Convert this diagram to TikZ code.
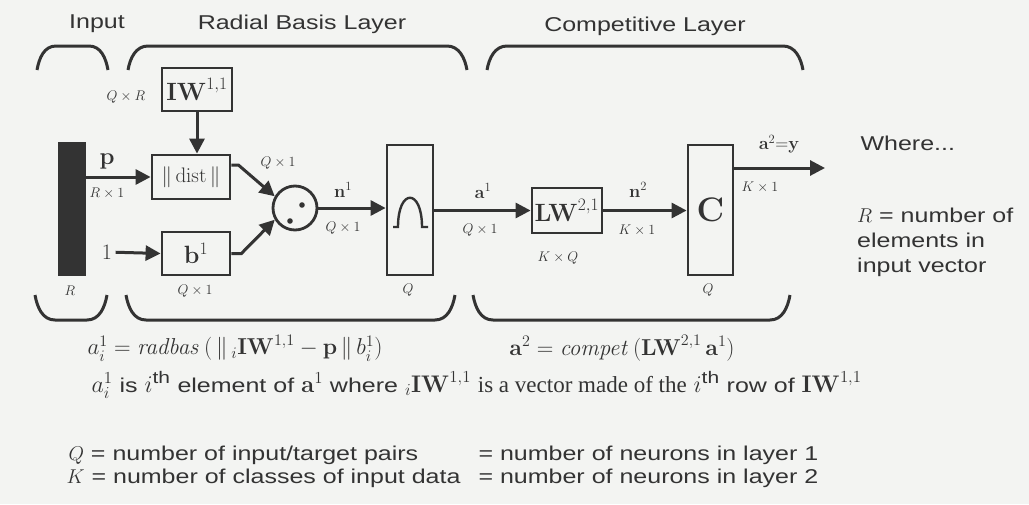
\RequirePackage{fix-cm}
\documentclass[tikz,border=0pt]{standalone}
\usepackage{amsmath}
\usepackage[no-math]{fontspec}
\setmainfont{Liberation Sans}[FakeStretch=1.25]
\newfontfamily\timesface{Liberation Serif}
\usetikzlibrary{arrows.meta,calc}
\definecolor{ink}{HTML}{333333}
\definecolor{paper}{HTML}{F3F4F2}
\newcommand{\mth}[1]{{\fontsize{24}{25}\selectfont$#1$}}
\tikzset{block/.style={draw=ink,line width=2.8pt,inner sep=0pt}}
\tikzset{wire/.style={draw=ink,line width=3pt,-{Triangle[length=15pt,width=15pt]}}}
\tikzset{layer/.style={draw=ink,line width=3pt}}
\tikzset{dims/.style={font=\fontsize{14}{16}\selectfont}}
\tikzset{sans/.style={font=\fontsize{20}{25}\selectfont}}
\tikzset{sym/.style={font=\fontsize{18}{20}\selectfont}}
\tikzset{big/.style={font=\fontsize{25}{28}\selectfont}}
\tikzset{formula/.style={font=\fontsize{23}{26}\selectfont}}

\begin{document}
\begin{tikzpicture}[x=10pt,y=-10pt,every node/.style={text=ink}]
    \fill [paper] (0,0) rectangle (102.9,50.4);
    \useasboundingbox (0,0) rectangle (102.9,50.4);

    \node [sans] (inputtitle) at (9.7,2.4) {Input};
    \node [sans] (rbtitle) at (30.2,2.4) {Radial Basis Layer};
    \node [sans] (comptitle) at (64.5,2.6) {Competitive Layer};

    \draw [layer] (3.7,7) to[out=80,in=180] (5.6,4.6) -- (8.9,4.6) to[out=0,in=100] (10.8,7);
    \draw [layer] (12.8,7) to[out=80,in=180] (14.8,4.6) -- (44.7,4.6) to[out=0,in=100] (46.7,7);
    \draw [layer] (48.7,7) to[out=80,in=180] (50.7,4.6) -- (78.3,4.6) to[out=0,in=100] (80.3,7);
    \draw [layer] (3.5,29.5) to[out=-80,in=180] (5.5,32) -- (8.7,32) to[out=0,in=-100] (10.7,29.5);
    \draw [layer] (12.6,29.5) to[out=-80,in=180] (14.6,32) -- (43.5,32) to[out=0,in=-100] (45.5,29.5);
    \draw [layer] (47.3,29.5) to[out=-80,in=180] (49.3,32) -- (77,32) to[out=0,in=-100] (79,29.5);

    \node [block,fill=ink,minimum width=26pt,minimum height=132pt] (bar) at (7.2,20.9) {};
    \node [block,big,minimum width=70pt,minimum height=43pt] (iw) at (19.7,8.95) {$\mathbf{IW}^{1,1}$};
    \node [block,font=\fontsize{21}{24}\selectfont,minimum width=78pt,minimum height=44pt] (dist) at (19.1,17.7) {$\|\,\mathrm{dist}\,\|$};
    \node [block,big,minimum width=68pt,minimum height=43pt] (bias) at (19.6,25.35) {$\mathbf{b}^1$};
    \node [block,circle,minimum size=44pt] (dot) at (29.5,20.8) {};
    \node [block,minimum width=46pt,minimum height=130pt] (rb) at (41,21) {};
    \node [block,big,minimum width=70pt,minimum height=45pt] (lw) at (56.7,21.05) {$\mathbf{LW}^{2,1}$};
    \node [block,font=\fontsize{34}{38}\selectfont,minimum width=45pt,minimum height=130pt] (comp) at (71.05,21) {$\mathbf{C}$};

    \fill [ink] ([shift={(0.7,-0.3)}]dot.center) circle (2.8pt);
    \fill [ink] ([shift={(-0.5,1.3)}]dot.center) circle (2.8pt);
    \draw [ink,line width=2.4pt] (39.3,22.7) -- (39.8,22.7) .. controls (39.8,18.8) and (42.2,18.8) .. (42.2,22.7) -- (42.8,22.7);

    \node [dims] (qxr) at (12.6,9.7) {$Q\times R$};
    \node [font=\fontsize{24}{26}\selectfont] (plbl) at (10.7,16.1) {$\mathbf{p}$};
    \node [dims] (pdim) at (10.7,19.3) {$R\times 1$};
    \node [font=\fontsize{22}{24}\selectfont] (one) at (10.7,25.2) {$1$};
    \node [dims] (bdim) at (19.5,29.1) {$Q\times 1$};
    \node [dims] (rdim) at (7,29.1) {$R$};
    \node [dims] (ddim) at (27.8,16.3) {$Q\times 1$};
    \node [sym] (n1lbl) at (34.3,19) {$\mathbf{n}^1$};
    \node [dims] (n1dim) at (34.3,22.8) {$Q\times 1$};
    \node [dims] (rbdim) at (40.8,29) {$Q$};
    \node [sym] (a1lbl) at (48.3,19.1) {$\mathbf{a}^1$};
    \node [dims] (a1dim) at (48,23) {$Q\times 1$};
    \node [dims] (lwdim) at (55.8,25.8) {$K\times Q$};
    \node [sym] (n2lbl) at (63.8,19) {$\mathbf{n}^2$};
    \node [dims] (n2dim) at (63.7,23) {$K\times 1$};
    \node [dims] (cdim) at (70.8,29) {$Q$};
    \node [sym] (ylbl) at (77.9,14.4) {$\mathbf{a}^2{=}\mathbf{y}$};
    \node [dims] (ydim) at (76,18.7) {$K\times 1$};
    \coordinate (yend) at (82.5,16.8);

    \draw [wire] (bar.east |- dist.west) -- (dist.west);
    \draw [wire] (one) -- (bias.west);
    \draw [wire] (iw.south) -- (iw.south |- dist.north);
    \draw [wire] ([yshift=12pt]dist.east) -- ++(0.7,0) -- (dot.150);
    \draw [wire] (bias.east) -- ++(1,0) -- (dot.210);
    \draw [wire] (dot.east) -- (dot.east -| rb.west);
    \draw [wire] (rb.east |- lw.west) -- (lw.west);
    \draw [wire] (lw.east) -- (lw.east -| comp.west);
    \draw [wire] (comp.east |- yend) -- (yend);

    \node [sans,anchor=base west] (where) at (85.7,15) {Where...};
    \node [sans,anchor=north west,align=left,inner sep=0pt] (rnote) at (85.7,20.75) {$R$ = number of\\elements in\\input vector};

    \node [formula] (radbasf) at (23.5,34.8) {$a_i^1 = \mathit{radbas}\,(\,\|\,{}_i\mathbf{IW}^{1,1} - \mathbf{p}\,\|\,b_i^1)$};
    \node [formula] (competf) at (62.2,34.8) {$\mathbf{a}^2 = \mathit{compet}\,(\mathbf{LW}^{2,1}\,\mathbf{a}^1)$};
    \node [sans,anchor=base west] (rownote) at (8.8,39.2) {\mth{a_i^1} is \mth{i^{\text{th}}} element of \mth{\mathbf{a}^1} where \mth{{}_i\mathbf{IW}^{1,1}} {\timesface\fontsize{23}{25}\selectfont is a vector made of the} \mth{i^{\text{th}}} row of \mth{\mathbf{IW}^{1,1}}};

    \node [sans,anchor=base west] (qnote) at (6.5,46) {$Q$ = number of input/target pairs};
    \node [sans,anchor=base west] (knote) at (6.3,48.3) {$K$ = number of classes of input data};
    \node [sans,anchor=base west] (qlayer) at (47.5,46) {= number of neurons in layer 1};
    \node [sans,anchor=base west] (klayer) at (47.5,48.3) {= number of neurons in layer 2};
\end{tikzpicture}
\end{document}
